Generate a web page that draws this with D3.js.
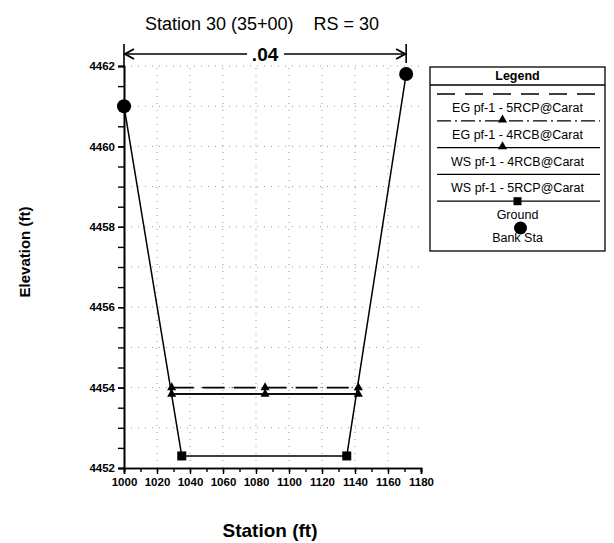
<!DOCTYPE html>
<html>
<head>
<meta charset="utf-8">
<script src="https://cdn.jsdelivr.net/npm/d3@7/dist/d3.min.js"></script>
<style>
  html, body { margin: 0; padding: 0; background: #fff; }
  svg { display: block; font-family: "Liberation Sans", Arial, sans-serif; }
</style>
</head>
<body>
<svg id="chart" width="614" height="543"></svg>
<script>
// Cross-section: Station 30 (35+00), RS = 30
const title = "Station 30 (35+00)    RS = 30";
const xLabel = "Station (ft)";
const yLabel = "Elevation (ft)";

// Ground profile (station, elevation)
const groundSta  = [1000, 1035, 1135, 1171];
const groundElev = [4461.0, 4452.3, 4452.3, 4461.8];

// Bank stations
const bankSta  = [1000, 1171];
const bankElev = [4461.0, 4461.8];

// Water profiles: stations across the wetted width, one elevation each
const waterSta = [1028.9, 1085.5, 1142.0];
const egElev5RCP = 4454.0;
const egElev4RCB = 4454.0;
const wsElev4RCB = 4453.84;
const wsElev5RCP = 4453.84;

// Manning's n between the banks
const nValue = ".04";

// Axis ticks
const xTicks = [1000, 1020, 1040, 1060, 1080, 1100, 1120, 1140, 1160, 1180];
const yTicks = [4452, 4454, 4456, 4458, 4460, 4462];

const svg = d3.select("#chart");
const x = d3.scaleLinear().domain([1000, 1180]).range([124, 421]);
const y = d3.scaleLinear().domain([4452, 4462]).range([468, 66]);

// Faint dotted grid
const grid = svg.append("g").attr("stroke", "#999").attr("stroke-width", 1)
  .attr("stroke-dasharray", "1,6").attr("fill", "none");
grid.selectAll("line.h").data(d3.range(4453, 4463, 1)).join("line")
  .attr("x1", x(1000)).attr("x2", x(1180))
  .attr("y1", d => y(d)).attr("y2", d => y(d));
grid.selectAll("line.v").data(xTicks.slice(1, -1)).join("line")
  .attr("x1", d => x(d)).attr("x2", d => x(d))
  .attr("y1", y(4452)).attr("y2", y(4462));

// Axes
function styleAxis(g) {
  g.select(".domain").attr("stroke", "#000").attr("stroke-width", 1.6);
  g.selectAll(".tick line").attr("stroke", "#000").attr("stroke-width", 1.4);
  g.selectAll("text").attr("fill", "#000").attr("font-size", "11.5px")
    .attr("font-weight", "bold").attr("font-family", "'Liberation Sans', Arial, sans-serif");
}
svg.append("g").attr("transform", `translate(0,${y(4452)})`)
  .call(d3.axisBottom(x).tickValues(d3.range(1000, 1181, 10)).tickSize(4).tickFormat(""))
  .call(styleAxis);
svg.append("g").attr("transform", `translate(0,${y(4452)})`)
  .call(d3.axisBottom(x).tickValues(xTicks).tickSize(6).tickPadding(4).tickFormat(d3.format("d")))
  .call(styleAxis);
svg.append("g").attr("transform", `translate(${x(1000)},0)`)
  .call(d3.axisLeft(y).tickValues(d3.range(4452, 4462.01, 0.5)).tickSize(6).tickFormat(""))
  .call(styleAxis);
svg.append("g").attr("transform", `translate(${x(1000)},0)`)
  .call(d3.axisLeft(y).tickValues(yTicks).tickSize(6).tickPadding(3).tickFormat(d3.format("d")))
  .call(styleAxis);

// n-value bracket between bank stations
const nY = 54, nTop = 44;
const bx0 = x(bankSta[0]), bx1 = x(bankSta[1]), bmid = (bx0 + bx1) / 2;
const nG = svg.append("g").attr("stroke", "#000").attr("stroke-width", 1.6).attr("fill", "none");
nG.append("line").attr("x1", bx0).attr("x2", bx0).attr("y1", nTop).attr("y2", y(4462));
nG.append("line").attr("x1", bx1).attr("x2", bx1).attr("y1", nTop).attr("y2", y(4462) - 3);
nG.append("line").attr("x1", bx0 + 1).attr("x2", bmid - 18).attr("y1", nY).attr("y2", nY);
nG.append("line").attr("x1", bmid + 19).attr("x2", bx1 - 1).attr("y1", nY).attr("y2", nY);
nG.append("path").attr("d", `M${bx0 + 10},${nY - 5}L${bx0 + 1},${nY}L${bx0 + 10},${nY + 5}`).attr("stroke-width", 2);
nG.append("path").attr("d", `M${bx1 - 10},${nY - 5}L${bx1 - 1},${nY}L${bx1 - 10},${nY + 5}`).attr("stroke-width", 2);
svg.append("text").attr("x", bmid).attr("y", nY + 7).attr("text-anchor", "middle")
  .attr("font-size", "19px").attr("font-weight", "bold").text(nValue);

// Ground line
const line = d3.line().x(d => x(d[0])).y(d => y(d[1]));
const ground = groundSta.map((s, i) => [s, groundElev[i]]);
svg.append("path").attr("d", line(ground)).attr("fill", "none")
  .attr("stroke", "#000").attr("stroke-width", 1.5);

// Water surface / energy grade lines
const wsLines = [
  { elev: egElev4RCB, dash: "1,9", width: 1, marker: true },
  { elev: egElev5RCP, dash: "22,9", width: 1.6, marker: false },
  { elev: wsElev4RCB, dash: null, width: 1.6, marker: true },
  { elev: wsElev5RCP, dash: null, width: 1.6, marker: false }
];
const tri = d3.symbol().type(d3.symbolTriangle).size(36);
wsLines.forEach(s => {
  const pts = waterSta.map(st => [st, s.elev]);
  svg.append("path").attr("d", line(pts)).attr("fill", "none").attr("stroke", "#000")
    .attr("stroke-width", s.width).attr("stroke-dasharray", s.dash);
  if (s.marker) {
    svg.selectAll(null).data(pts).join("path")
      .attr("d", tri).attr("transform", d => `translate(${x(d[0])},${y(d[1])})`).attr("fill", "#000");
  }
});

// Ground point markers and bank stations
svg.selectAll("rect.gp").data(ground.slice(1, -1)).join("rect")
  .attr("x", d => x(d[0]) - 4.5).attr("y", d => y(d[1]) - 4.5)
  .attr("width", 9).attr("height", 9).attr("fill", "#000");
svg.selectAll("circle.bank").data(bankSta.map((s, i) => [s, bankElev[i]])).join("circle")
  .attr("cx", d => x(d[0])).attr("cy", d => y(d[1])).attr("r", 7).attr("fill", "#000");

// Titles
svg.append("text").attr("x", 262).attr("y", 30).attr("text-anchor", "middle")
  .attr("font-size", "18px").style("white-space", "pre").text(title);
svg.append("text").attr("x", 270).attr("y", 537).attr("text-anchor", "middle")
  .attr("font-size", "19px").attr("font-weight", "bold").text(xLabel);
svg.append("text").attr("transform", "translate(30,252) rotate(-90)").attr("text-anchor", "middle")
  .attr("font-size", "15px").attr("font-weight", "bold").text(yLabel);

// Legend
const legendItems = [
  { label: "EG pf-1 - 5RCP@Carat", dash: "18,10", line: true, marker: null },
  { label: "EG pf-1 - 4RCB@Carat", dash: "14,4,2,4", line: true, marker: "tri" },
  { label: "WS pf-1 - 4RCB@Carat", dash: null, line: true, marker: "tri" },
  { label: "WS pf-1 - 5RCP@Carat", dash: null, line: true, marker: null },
  { label: "Ground", dash: null, line: true, marker: "sq" },
  { label: "Bank Sta", dash: null, line: false, marker: "circle" }
];
const lg = svg.append("g");
const lx0 = 430, lx1 = 605, ly0 = 67, ly1 = 251;
lg.append("rect").attr("x", lx0).attr("y", ly0).attr("width", lx1 - lx0).attr("height", ly1 - ly0)
  .attr("fill", "#fff").attr("stroke", "#000").attr("stroke-width", 1.3);
lg.append("line").attr("x1", lx0).attr("x2", lx1).attr("y1", 85).attr("y2", 85)
  .attr("stroke", "#000").attr("stroke-width", 1.3);
lg.append("text").attr("x", (lx0 + lx1) / 2).attr("y", 80).attr("text-anchor", "middle")
  .attr("font-size", "12.5px").attr("font-weight", "bold").text("Legend");
const lcx = (lx0 + lx1) / 2;
legendItems.forEach((d, i) => {
  const sy = 94 + i * 26.8;
  if (d.line) {
    lg.append("line").attr("x1", lx0 + 7).attr("x2", lx1 - 5).attr("y1", sy).attr("y2", sy)
      .attr("stroke", "#000").attr("stroke-width", 1.3).attr("stroke-dasharray", d.dash);
  }
  if (d.marker === "tri") {
    lg.append("path").attr("d", tri).attr("transform", `translate(${lcx - 15},${sy - 1})`).attr("fill", "#000");
  } else if (d.marker === "sq") {
    lg.append("rect").attr("x", lcx - 4).attr("y", sy - 4).attr("width", 8).attr("height", 8).attr("fill", "#000");
  } else if (d.marker === "circle") {
    lg.append("circle").attr("cx", lcx + 3).attr("cy", sy).attr("r", 6.5).attr("fill", "#000");
  }
  lg.append("text").attr("x", lcx).attr("y", sy + (d.line ? 18 : 14)).attr("text-anchor", "middle")
    .attr("font-size", "12.5px").text(d.label);
});
</script>
</body>
</html>
